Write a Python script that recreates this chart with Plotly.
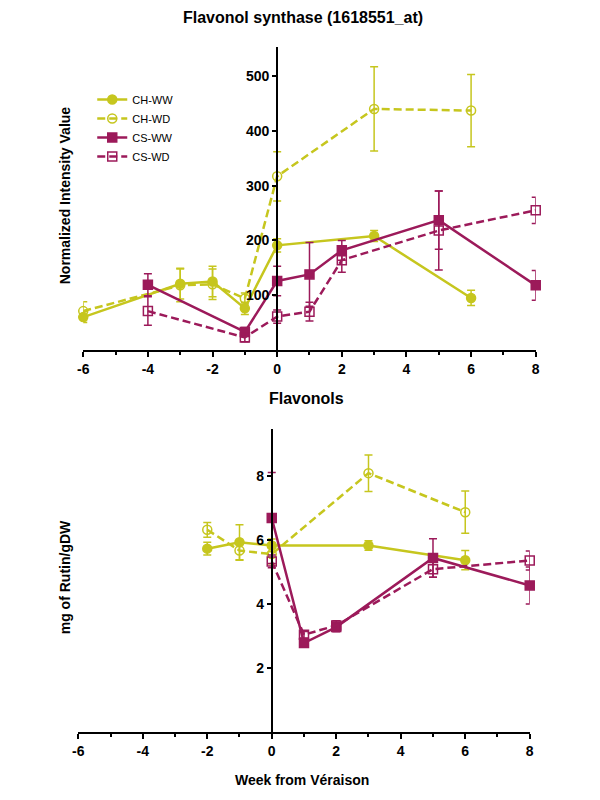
import plotly.graph_objects as go

# ---------------- data ----------------
# Top chart: Flavonol synthase (1618551_at), normalized intensity
ch_weeks = [-6, -3, -2, -1, 0, 3, 6]
ch_ww_fls = [60, 121, 125, 76, 191, 208, 95]
ch_ww_fls_err = [10, 28, 28, 11, 12, 10, 14]
ch_wd_fls = [71, 118, 120, 94, 317, 440, 437]
ch_wd_fls_err = [17, 30, 28, 10, 45, 77, 66]

cs_weeks = [-4, -1, 0, 1, 2, 5, 8]
cs_ww_fls = [119, 33, 126, 138, 182, 237, 118]
cs_ww_fls_err = [20, 8, 27, 58, 18, 53, 27]
cs_wd_fls = [71, 23, 61, 70, 164, 218, 255]
cs_wd_fls_err = [26, 8, 12, 17, 22, 72, 24]

# Bottom chart: Flavonols, mg of Rutin/gDW
ch_weeks_b = [-2, -1, 0, 3, 6]
ch_ww_flv = [5.73, 5.93, 5.83, 5.83, 5.37]
ch_ww_flv_err = [0.2, 0.55, 0.2, 0.15, 0.3]
ch_wd_flv = [6.32, 5.67, 5.56, 8.09, 6.87]
ch_wd_flv_err = [0.23, 0.3, 0.3, 0.57, 0.66]

cs_weeks_b = [0, 1, 2, 5, 8]
cs_ww_flv = [6.69, 2.78, 3.28, 5.44, 4.58]
cs_ww_flv_err = [1.42, 0.1, 0.15, 0.6, 0.58]
cs_wd_flv = [5.33, 3.04, 3.33, 5.09, 5.36]
cs_wd_flv_err = [0.2, 0.1, 0.15, 0.25, 0.3]

x_ticks = [-6, -4, -2, 0, 2, 4, 6, 8]
top_y_ticks = [100, 200, 300, 400, 500]
bottom_y_ticks = [2, 4, 6, 8]

# ---------------- style ----------------
CH = "#C6C61E"
CS = "#9C1A5A"
FONT = "Liberation Sans, Arial, sans-serif"

OFF = 8
W, H = 600 - 2 * OFF, 800 - 2 * OFF


def px(x):
    # screen x (px) -> paper fraction (corrected for the page's horizontal mapping)
    t = (x - 5.8) / 0.984
    return (t - OFF) / W


def py(y):
    return 1 - (y - OFF) / H


fig = go.Figure()


def add(x, y, err, color, symbol, dash, name, xa, ya, show):
    fig.add_trace(go.Scatter(
        x=x, y=y, name=name, mode="lines+markers",
        xaxis=xa, yaxis=ya, showlegend=show,
        line=dict(color=color, width=2.5, dash=dash),
        marker=dict(color=color, symbol=symbol, size=9,
                    line=dict(color=color, width=1.5)),
        error_y=dict(type="data", array=err, visible=True,
                     color=color, thickness=1.5, width=4),
        cliponaxis=False,
    ))


DASH = "8px,4px"
add(ch_weeks, ch_ww_fls, ch_ww_fls_err, CH, "circle", "solid", "CH-WW", "x", "y", True)
add(ch_weeks, ch_wd_fls, ch_wd_fls_err, CH, "circle-open", DASH, "CH-WD", "x", "y", True)
add(cs_weeks, cs_ww_fls, cs_ww_fls_err, CS, "square", "solid", "CS-WW", "x", "y", True)
add(cs_weeks, cs_wd_fls, cs_wd_fls_err, CS, "square-open", DASH, "CS-WD", "x", "y", True)

add(ch_weeks_b, ch_ww_flv, ch_ww_flv_err, CH, "circle", "solid", "CH-WW", "x2", "y2", False)
add(ch_weeks_b, ch_wd_flv, ch_wd_flv_err, CH, "circle-open", DASH, "CH-WD", "x2", "y2", False)
add(cs_weeks_b, cs_ww_flv, cs_ww_flv_err, CS, "square", "solid", "CS-WW", "x2", "y2", False)
add(cs_weeks_b, cs_wd_flv, cs_wd_flv_err, CS, "square-open", DASH, "CS-WD", "x2", "y2", False)

tickfont = dict(family=FONT, size=14, color="black", weight="bold")

xcommon = dict(range=[-6, 8], tickvals=x_ticks, ticktext=[str(v) for v in x_ticks],
               showline=True, linecolor="black", linewidth=2, ticks="outside",
               ticklen=5, tickwidth=2, tickcolor="black", showgrid=False,
               zeroline=False, tickfont=tickfont,
               minor=dict(dtick=1, tick0=0, ticks="outside", ticklen=3,
                          tickwidth=2, tickcolor="black", showgrid=False))
ycommon = dict(showline=True, linecolor="black", linewidth=2, ticks="outside",
               ticklen=4, tickwidth=2, tickcolor="black", showgrid=False,
               zeroline=False, tickfont=tickfont, anchor="free")

top_xd = [px(83), px(536)]
bot_xd = [px(78), px(530)]

fig.update_layout(
    width=W, height=H,
    margin=dict(l=0, r=0, t=0, b=0),
    paper_bgcolor="white", plot_bgcolor="white",
    xaxis=dict(domain=top_xd, anchor="y", **xcommon),
    yaxis=dict(domain=[py(350), py(47)], range=[0, 553],
               tickvals=top_y_ticks,
               position=top_xd[0] + (top_xd[1] - top_xd[0]) * 6 / 14, **ycommon),
    xaxis2=dict(domain=bot_xd, anchor="y2", **xcommon),
    yaxis2=dict(domain=[py(732), py(429)], range=[0, 9.47],
                tickvals=bottom_y_ticks,
                position=bot_xd[0] + (bot_xd[1] - bot_xd[0]) * 6 / 14, **ycommon),
    legend=dict(x=px(92), y=py(85), xanchor="left", yanchor="top",
                bgcolor="rgba(0,0,0,0)", tracegroupgap=0, itemwidth=30,
                font=dict(family=FONT, size=11, color="black")),
    showlegend=True,
)

ann_font = dict(family=FONT, size=16, color="black", weight="bold")
axt_font = dict(family=FONT, size=14, color="black", weight="bold")


def ann(text, x, y, font, angle=0):
    fig.add_annotation(text=text, x=px(x), y=py(y), xref="paper", yref="paper",
                       xanchor="center", yanchor="middle", showarrow=False,
                       textangle=angle, font=font)


ann("Flavonol synthase (1618551_at)", 303, 18, ann_font)
ann("Flavonols", 307, 398, ann_font)
ann("Normalized Intensity Value", 65, 195, axt_font, -90)
ann("mg of Rutin/gDW", 65, 577, axt_font, -90)
ann("Week from Véraison", 302, 780, axt_font)

fig.write_html("out.html")
